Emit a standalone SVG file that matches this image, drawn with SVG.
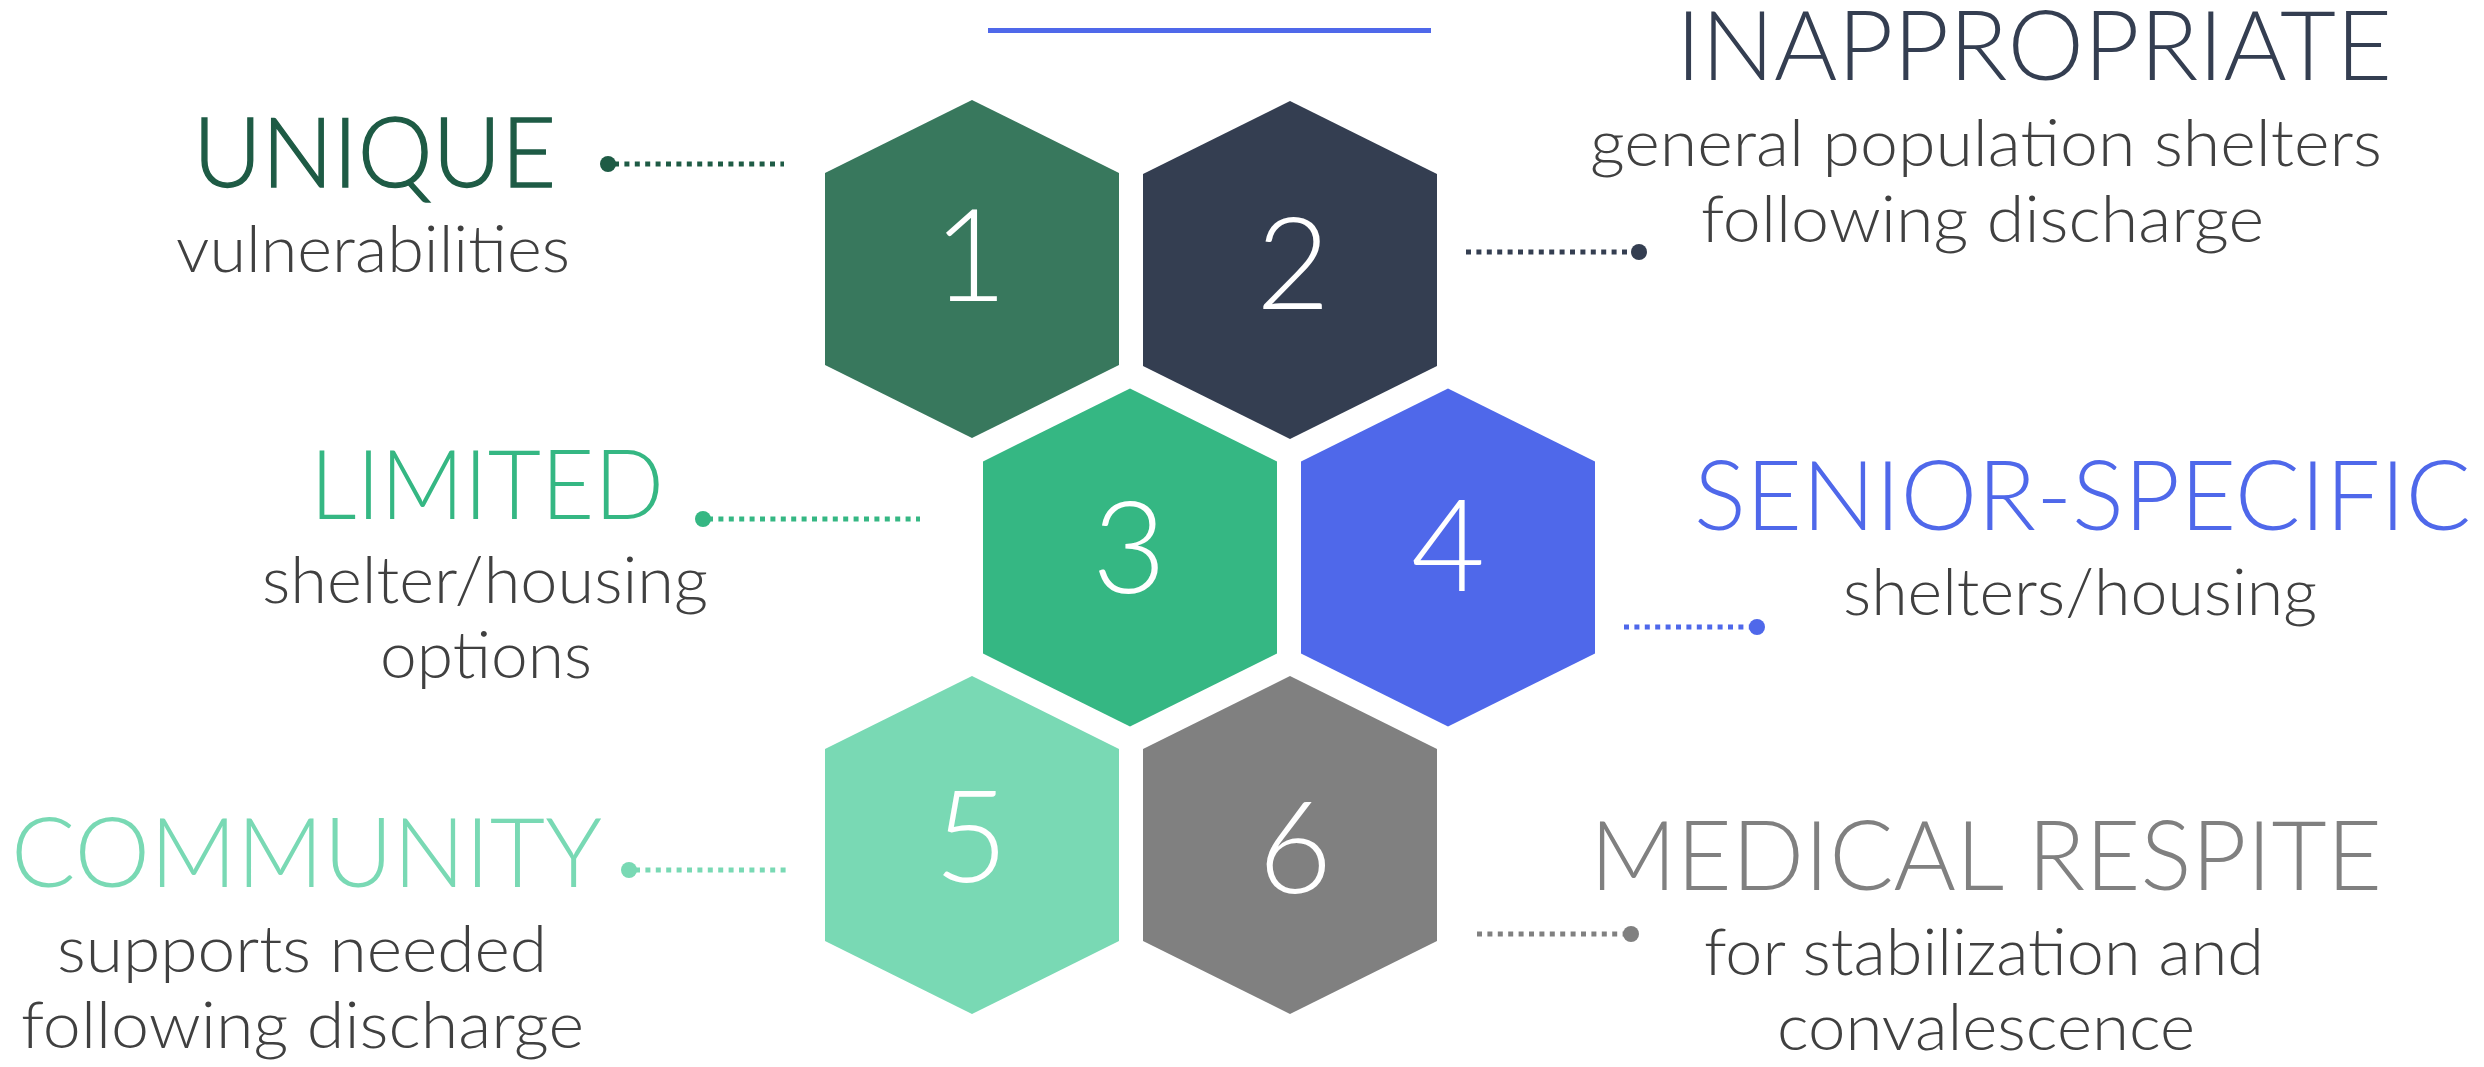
<svg xmlns="http://www.w3.org/2000/svg" xmlns:xlink="http://www.w3.org/1999/xlink" width="2484" height="1067" viewBox="0 0 2484 1067">
  <style>
    text { font-family: Lato, "Open Sans", "Liberation Sans", sans-serif; font-weight: 300; }
    .num { fill: #ffffff; font-size: 128px; text-anchor: middle; }
    .head { font-size: 97px; }
    .sub { font-size: 65px; fill: #404040; }
    .dots { stroke-width: 5; stroke-dasharray: 5 5.4; fill: none; }
  </style>
  <defs>
    <polygon id="hex" points="0,-169 147,-96 147,96 0,169 -147,96 -147,-96"/>
  </defs>

  <!-- accent rule at the top -->
  <rect x="988" y="28" width="443" height="5" fill="#4F68EA"/>

  <!-- honeycomb -->
  <g id="node-1">
    <use xlink:href="#hex" href="#hex" x="972" y="269" fill="#38785D"/>
    <text class="num" x="970" y="301">1</text>
  </g>
  <g id="node-2">
    <use xlink:href="#hex" href="#hex" x="1290" y="270" fill="#343E51"/>
    <text class="num" x="1293" y="309">2</text>
  </g>
  <g id="node-3">
    <use xlink:href="#hex" href="#hex" x="1130" y="557.5" fill="#35B783"/>
    <text class="num" x="1129" y="593">3</text>
  </g>
  <g id="node-4">
    <use xlink:href="#hex" href="#hex" x="1448" y="557.5" fill="#4F68EA"/>
    <text class="num" x="1448" y="591">4</text>
  </g>
  <g id="node-5">
    <use xlink:href="#hex" href="#hex" x="972" y="845" fill="#79D9B4"/>
    <text class="num" x="971" y="882">5</text>
  </g>
  <g id="node-6">
    <use xlink:href="#hex" href="#hex" x="1290" y="845" fill="#808080"/>
    <text class="num" x="1295" y="893">6</text>
  </g>

  <!-- labels -->
  <g id="label-1">
    <text class="head" x="193" y="187" fill="#1E5B45" stroke="#1E5B45" stroke-width="1.4" textLength="363" lengthAdjust="spacingAndGlyphs">UNIQUE</text>
    <text class="sub" x="176" y="272" textLength="394" lengthAdjust="spacingAndGlyphs">vulnerabilities</text>
  </g>
  <g id="label-2">
    <text class="head" x="1676" y="80" fill="#343E51" textLength="716" lengthAdjust="spacingAndGlyphs">INAPPROPRIATE</text>
    <text class="sub" x="1590" y="166" textLength="792" lengthAdjust="spacingAndGlyphs">general population shelters</text>
    <text class="sub" x="1701" y="242" textLength="563" lengthAdjust="spacingAndGlyphs">following discharge</text>
  </g>
  <g id="label-3">
    <text class="head" x="310" y="519" fill="#35B783" textLength="354" lengthAdjust="spacingAndGlyphs">LIMITED</text>
    <text class="sub" x="262" y="603" textLength="446" lengthAdjust="spacingAndGlyphs">shelter/housing</text>
    <text class="sub" x="380" y="678" textLength="212" lengthAdjust="spacingAndGlyphs">options</text>
  </g>
  <g id="label-4">
    <text class="head" x="1694" y="530" fill="#4F68EA" textLength="777" lengthAdjust="spacingAndGlyphs">SENIOR-SPECIFIC</text>
    <text class="sub" x="1843" y="615" textLength="474" lengthAdjust="spacingAndGlyphs">shelters/housing</text>
  </g>
  <g id="label-5">
    <text class="head" x="11" y="887" fill="#79D9B4" textLength="591" lengthAdjust="spacingAndGlyphs">COMMUNITY</text>
    <text class="sub" x="57" y="972" textLength="490" lengthAdjust="spacingAndGlyphs">supports needed</text>
    <text class="sub" x="21" y="1048" textLength="563" lengthAdjust="spacingAndGlyphs">following discharge</text>
  </g>
  <g id="label-6">
    <text class="head" x="1590" y="890" fill="#808080" textLength="792" lengthAdjust="spacingAndGlyphs">MEDICAL RESPITE</text>
    <text class="sub" x="1704" y="975" textLength="560" lengthAdjust="spacingAndGlyphs">for stabilization and</text>
    <text class="sub" x="1777" y="1050" textLength="418" lengthAdjust="spacingAndGlyphs">convalescence</text>
  </g>

  <!-- dotted leader lines with end dots -->
  <g id="connectors">
    <line class="dots" x1="614" y1="164" x2="784" y2="164" stroke="#1E5B45"/>
    <circle cx="608" cy="164" r="8" fill="#1E5B45"/>

    <line class="dots" x1="1466" y1="252" x2="1634" y2="252" stroke="#343E51"/>
    <circle cx="1639" cy="252" r="8" fill="#343E51"/>

    <line class="dots" x1="708" y1="519" x2="920" y2="519" stroke="#35B783"/>
    <circle cx="703" cy="519" r="8" fill="#35B783"/>

    <line class="dots" x1="1624" y1="627" x2="1751" y2="627" stroke="#4F68EA"/>
    <circle cx="1757" cy="627" r="8" fill="#4F68EA"/>

    <line class="dots" x1="635" y1="870" x2="791" y2="870" stroke="#79D9B4"/>
    <circle cx="629" cy="870" r="8" fill="#79D9B4"/>

    <line class="dots" x1="1477" y1="934" x2="1625" y2="934" stroke="#808080"/>
    <circle cx="1631" cy="934" r="8" fill="#808080"/>
  </g>
</svg>
